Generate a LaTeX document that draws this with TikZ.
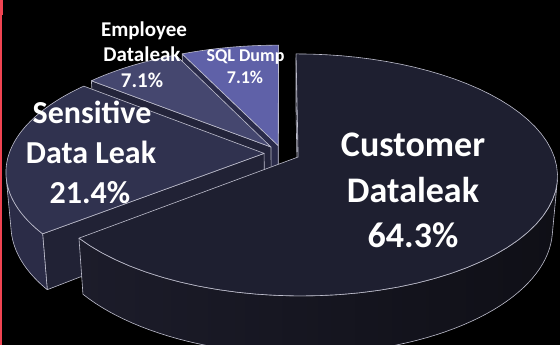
\documentclass[tikz,border=0pt]{standalone}
\usepackage{fontspec}
\setmainfont{Carlito}
\definecolor{custtop}{HTML}{1E1F30}
\definecolor{custsideL}{HTML}{1C1C2A}
\definecolor{custsideR}{HTML}{0F0F16}
\definecolor{senstop}{HTML}{30324F}
\definecolor{sensside}{HTML}{2B2C47}
\definecolor{senscut}{HTML}{212235}
\definecolor{emptop}{HTML}{45476F}
\definecolor{empcut}{HTML}{23243A}
\definecolor{sqltop}{HTML}{5F61A8}
\definecolor{sqlcut}{HTML}{2A2B4A}
\definecolor{rimline}{RGB}{190,190,205}
\definecolor{redline}{HTML}{F04452}
\tikzset{
  declare function={
    dp(\X,\Y,\Z)=6.02+0.888*(\Y)-0.46*(\Z);
    sx(\X,\Y,\Z)=282+1535*(\X)/dp(\X,\Y,\Z);
    sy(\X,\Y,\Z)=153.4-1535*(0.46*(\Y)+0.888*(\Z))/dp(\X,\Y,\Z);
    rx(\a,\b,\t,\z)=sx(\a+cos(\t),\b+sin(\t),\z);
    ry(\a,\b,\t,\z)=sy(\a+cos(\t),\b+sin(\t),\z);
  },
  pl/.style 2 args={domain=#1:#2, samples=60, variable=\t},
  edge/.style={draw=rimline, line width=0.6pt, line join=round},
  lbl/.style={anchor=base, text=white, inner sep=0pt},
  bigfont/.style={font=\bfseries\fontsize{36}{36}\selectfont},
  midfont/.style={font=\bfseries\fontsize{32}{32}\selectfont},
  smallfont/.style={font=\bfseries\fontsize{21}{21}\selectfont},
  tinyfont/.style={font=\bfseries\fontsize{18}{18}\selectfont}
}
\newcommand\Rim[4]{({rx(#1,#2,#3,#4)},{ry(#1,#2,#3,#4)})}
\newcommand\Apx[3]{({sx(#1,#2,#3)},{sy(#1,#2,#3)})}
\def\hh{0.235}
\begin{document}
\begin{tikzpicture}[x=1pt,y=-1pt]
\useasboundingbox (0,0) rectangle (560,345);
\clip (0,0) rectangle (560,345);
\fill[black] (0,0) rectangle (560,345);
\fill[redline] (0,0) rectangle (2.2,345);
\fill[redline] (0,0) rectangle (3,15);

% SQL Dump slice (90 to 115.6)
\def\ox{-0.01551}\def\oy{0.06826}
\filldraw[edge, fill=sqlcut] \Apx{\ox}{\oy}{0} -- \Rim{\ox}{\oy}{90}{0} -- \Rim{\ox}{\oy}{90}{-\hh} -- \Apx{\ox}{\oy}{-\hh} -- cycle;
\filldraw[edge, fill=sqlcut] \Apx{\ox}{\oy}{0} -- \Rim{\ox}{\oy}{115.6}{0} -- \Rim{\ox}{\oy}{115.6}{-\hh} -- \Apx{\ox}{\oy}{-\hh} -- cycle;
\filldraw[edge, fill=sqltop] \Apx{\ox}{\oy}{0} -- plot[pl={90}{115.6}] ({rx(\ox,\oy,\t,0)},{ry(\ox,\oy,\t,0)}) -- cycle;

% Employee Dataleak slice (115.6 to 141.2)
\def\ox{-0.04348}\def\oy{0.05486}
\filldraw[edge, fill=empcut] \Apx{\ox}{\oy}{0} -- \Rim{\ox}{\oy}{141.2}{0} -- \Rim{\ox}{\oy}{141.2}{-\hh} -- \Apx{\ox}{\oy}{-\hh} -- cycle;
\filldraw[edge, fill=emptop] \Apx{\ox}{\oy}{0} -- plot[pl={115.6}{141.2}] ({rx(\ox,\oy,\t,0)},{ry(\ox,\oy,\t,0)}) -- cycle;

% Sensitive Data Leak slice (141.2 to 218.5)
\def\ox{-0.07}\def\oy{0}
\filldraw[edge, fill=senscut] \Apx{\ox}{\oy}{0} -- \Rim{\ox}{\oy}{218.5}{0} -- \Rim{\ox}{\oy}{218.5}{-\hh} -- \Apx{\ox}{\oy}{-\hh} -- cycle;
\filldraw[edge, fill=sensside] plot[pl={191}{218.5}] ({rx(\ox,\oy,\t,0)},{ry(\ox,\oy,\t,0)}) -- plot[pl={218.5}{191}] ({rx(\ox,\oy,\t,-\hh)},{ry(\ox,\oy,\t,-\hh)}) -- cycle;
\filldraw[edge, fill=senstop] \Apx{\ox}{\oy}{0} -- plot[pl={141.2}{218.5}] ({rx(\ox,\oy,\t,0)},{ry(\ox,\oy,\t,0)}) -- cycle;

% Customer Dataleak slice (-141.5 to 90)
\def\ox{0.06305}\def\oy{-0.03041}
\filldraw[edge, fill=custsideR] \Apx{\ox}{\oy}{0} -- \Rim{\ox}{\oy}{90}{0} -- \Rim{\ox}{\oy}{90}{-\hh} -- \Apx{\ox}{\oy}{-\hh} -- cycle;
\path[edge, left color=custsideL, right color=custsideR] plot[pl={-141.5}{-11}] ({rx(\ox,\oy,\t,0)},{ry(\ox,\oy,\t,0)}) -- plot[pl={-11}{-141.5}] ({rx(\ox,\oy,\t,-\hh)},{ry(\ox,\oy,\t,-\hh)}) -- cycle;
\filldraw[edge, fill=custtop] \Apx{\ox}{\oy}{0} -- plot[pl={-141.5}{90}] ({rx(\ox,\oy,\t,0)},{ry(\ox,\oy,\t,0)}) -- cycle;

% labels
\node[lbl, bigfont] (cust1) at (413,157) {Customer};
\node[lbl, bigfont] (cust2) at (413,202) {Dataleak};
\node[lbl, bigfont] (cust3) at (413,247) {64.3\%};
\node[lbl, midfont] (sens1) at (92,123) {Sensitive};
\node[lbl, midfont] (sens2) at (91,163) {Data Leak};
\node[lbl, midfont] (sens3) at (90,203) {21.4\%};
\node[lbl, smallfont] (emp1) at (144,37) {Employee};
\node[lbl, smallfont] (emp2) at (142,62) {Dataleak};
\node[lbl, smallfont] (emp3) at (142,88) {7.1\%};
\node[lbl, tinyfont] (sql1) at (245.5,62) {SQL Dump};
\node[lbl, tinyfont] (sql2) at (245,84) {7.1\%};
\end{tikzpicture}
\end{document}
